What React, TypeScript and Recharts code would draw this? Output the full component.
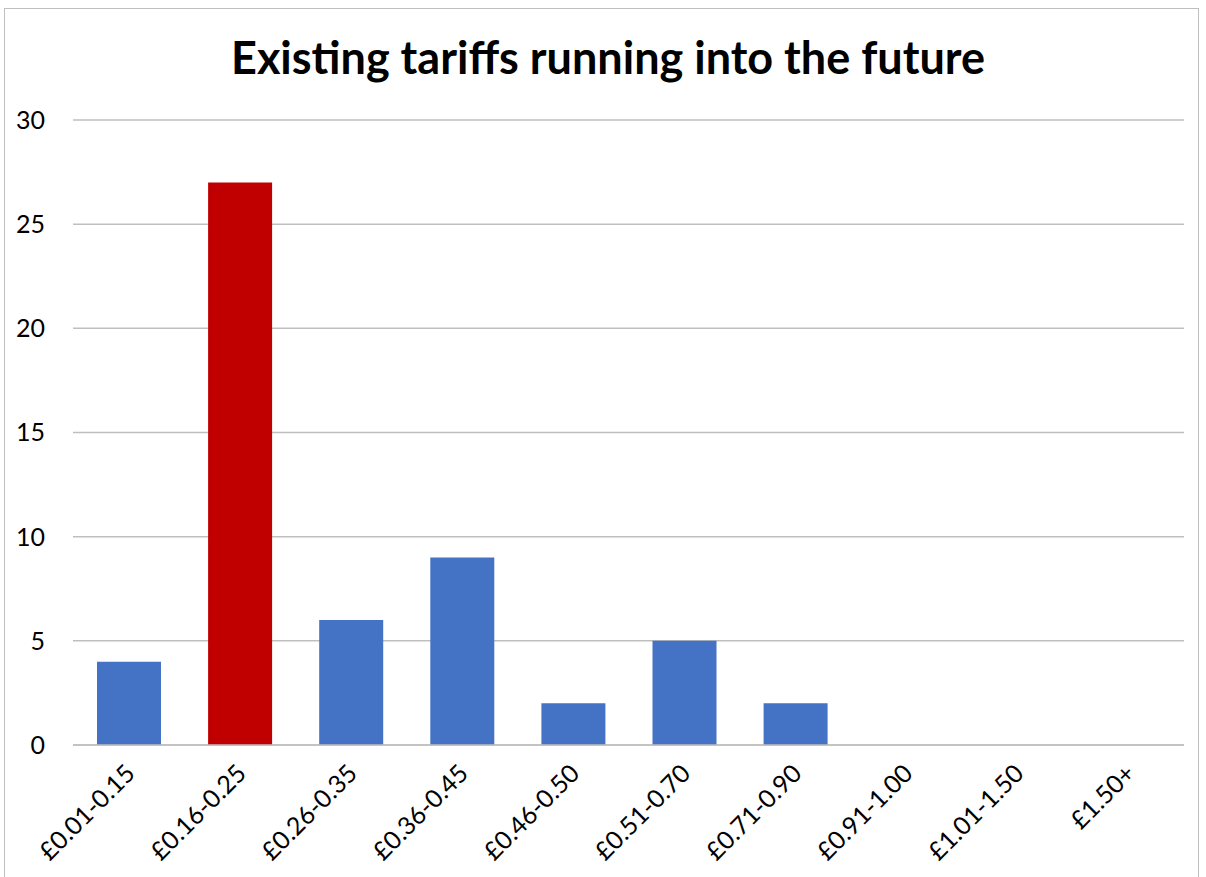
import React from "react";
import { BarChart, Bar, XAxis, YAxis, CartesianGrid, Cell } from "recharts";

const categories = [
  "£0.01-0.15",
  "£0.16-0.25",
  "£0.26-0.35",
  "£0.36-0.45",
  "£0.46-0.50",
  "£0.51-0.70",
  "£0.71-0.90",
  "£0.91-1.00",
  "£1.01-1.50",
  "£1.50+"
];
const counts = [4, 27, 6, 9, 2, 5, 2, 0, 0, 0];
const highlighted = ["£0.16-0.25"];
const yTicks = [0, 5, 10, 15, 20, 25, 30];

const data = categories.map((name, i) => ({ name, value: counts[i] }));

const FONT = "Lato, 'Noto Sans', sans-serif";

const XTick = (props: any) => {
  const { x, y, payload } = props;
  const ax = x + 8;
  const ay = y + 22;
  return (
    <text
      x={ax}
      y={ay}
      transform={`rotate(-45, ${ax}, ${ay})`}
      textAnchor="end"
      fill="#000"
      fontSize={25}
      fontFamily={FONT}
    >
      {payload.value}
    </text>
  );
};

const App: React.FC = () => {
  return (
    <div style={{ position: "absolute", left: 0, top: 0, width: 1206, height: 877, background: "#fff" }}>
      <div
        style={{
          position: "absolute",
          left: 4,
          top: 8,
          width: 1195,
          height: 880,
          border: "1px solid #bfbfbf",
          boxSizing: "border-box"
        }}
      />
      <div
        style={{
          position: "absolute",
          left: 0,
          top: 30,
          width: 1216,
          textAlign: "center",
          fontFamily: FONT,
          fontWeight: 700,
          fontSize: 45,
          color: "#000"
        }}
      >
        Existing tariffs running into the future
      </div>
      <div style={{ position: "absolute", left: 0, top: 0 }}>
        <BarChart
          width={1206}
          height={877}
          data={data}
          margin={{ top: 120, right: 22, left: 13, bottom: 0 }}
          barCategoryGap={0}
        >
          <CartesianGrid vertical={false} stroke="#bfbfbf" strokeWidth={1.5} />
          <XAxis
            dataKey="name"
            interval={0}
            height={132}
            tickLine={false}
            axisLine={{ stroke: "#bfbfbf", strokeWidth: 1.5 }}
            tick={<XTick />}
          />
          <YAxis
            width={60}
            domain={[0, 30]}
            ticks={yTicks}
            axisLine={false}
            tickLine={false}
            tick={{ fill: "#000", fontSize: 25, fontFamily: FONT }}
            tickMargin={22}
          />
          <Bar dataKey="value" barSize={64} isAnimationActive={false}>
            {data.map((d) => (
              <Cell key={d.name} fill={highlighted.includes(d.name) ? "#c00000" : "#4472c4"} />
            ))}
          </Bar>
        </BarChart>
      </div>
    </div>
  );
};

export default App;
